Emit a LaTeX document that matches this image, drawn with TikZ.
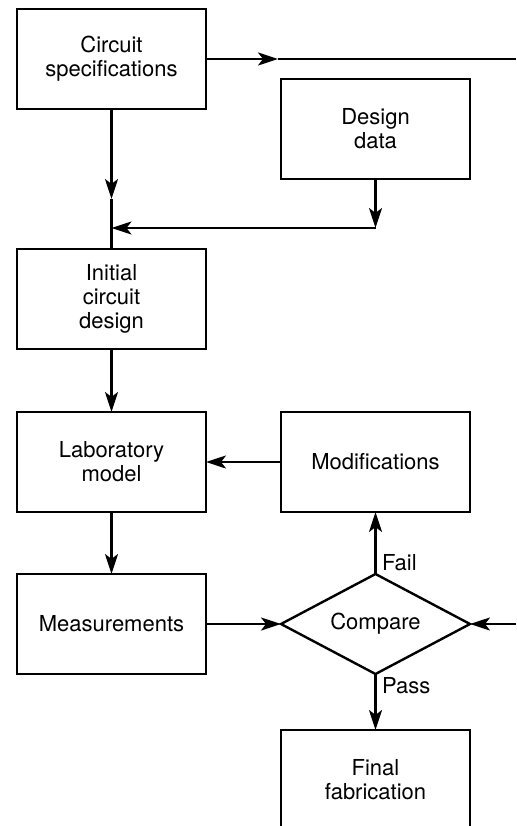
\documentclass[tikz,border=0pt]{standalone}
\usepackage{fontspec}
\setmainfont{TeX Gyre Heros}
\usepackage{tikz}
\usetikzlibrary{shapes.geometric,arrows.meta,positioning}
\tikzstyle{block} = [rectangle, draw=black, line width=2.4pt, fill=white, align=center, font=\fontsize{22}{24}\selectfont, minimum width=189pt, minimum height=100pt, inner sep=0pt, outer sep=0pt]
\tikzstyle{decision} = [diamond, draw=black, line width=2.4pt, fill=white, font=\fontsize{22}{24}\selectfont, minimum width=189pt, minimum height=100pt, aspect=1.89, inner sep=0pt, outer sep=0pt]
\tikzstyle{textonly} = [draw=none, fill=none, font=\fontsize{22}{24}\selectfont]
\tikzstyle{tedge}  = [draw, line width=2.4pt, >={Stealth[length=20pt,width=13pt,inset=5pt]}, ->]
\tikzstyle{tline}  = [draw, line width=2.4pt]

\begin{document}
\begin{tikzpicture}[auto]
\useasboundingbox (0pt,0pt) rectangle (516pt,-826pt);

% blocks =============================
\node[block] (spec) at (111.5pt,-59pt) {Circuit\\specifications};
\node[block, right=75pt of spec, yshift=-70pt] (data) {Design\\data};
\node[block, below=140pt of spec] (init) {Initial\\circuit\\design};
\node[block, below=63pt of init] (lab) {Laboratory\\model};
\node[block, below=62pt of lab] (meas) {Measurements};
\node[block, right=75pt of lab] (mod) {Modifications};
\node[decision, right=75pt of meas] (cmp) {Compare};
\node[block, below=56pt of cmp] (fin) {Final\\fabrication};

% free ends and joints
\coordinate (topmid) at (278pt,-59pt);
\coordinate (topend) at (516pt,-59pt);
\coordinate (specmid) at (111.5pt,-199pt);
\coordinate (join) at (111.5pt,-228pt);
\coordinate (dcorner) at (data.south |- join);
\coordinate (feed) at (516pt,-624pt);

% edges
\path[tedge] (spec.east) -- (topmid);
\path[tline] (topmid) -- (topend);
\path[tedge] (spec.south) -- (specmid);
\path[tline] (specmid) -- (init.north);
\path[tedge] (data.south) -- (dcorner);
\path[tedge] (dcorner) -- (join);
\path[tedge] (init) -- (lab);
\path[tedge] (mod) -- (lab);
\path[tedge] (lab) -- (meas);
\path[tedge] (meas) -- (cmp.west);
\path[tedge] (feed) -- (cmp.east);
\path[tedge] (cmp.north) -- node[textonly, right, pos=0.18, xshift=2pt] {Fail} (mod.south);
\path[tedge] (cmp.south) -- node[textonly, right, pos=0.2, xshift=2pt] {Pass} (fin.north);

\end{tikzpicture}
\end{document}
